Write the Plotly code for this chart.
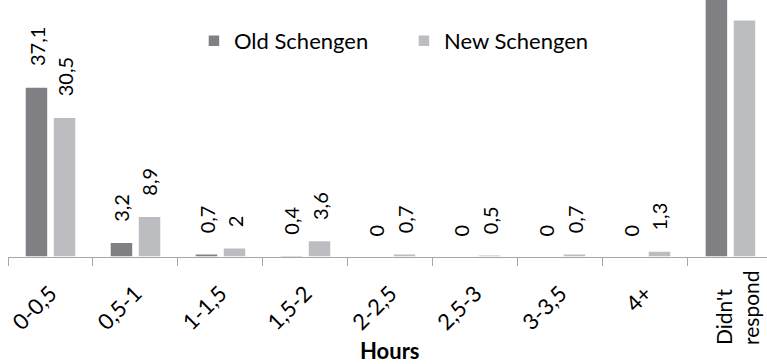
import plotly.graph_objects as go

# Survey answers: hours spent, share of respondents (%)
categories = ["0-0,5", "0,5-1", "1-1,5", "1,5-2", "2-2,5", "2,5-3", "3-3,5", "4+", "Didn't respond"]
old_schengen = [37.1, 3.2, 0.7, 0.4, 0, 0, 0, 0, 58.6]
new_schengen = [30.5, 8.9, 2.0, 3.6, 0.7, 0.5, 0.7, 1.3, 51.8]
tick_labels = ["0-0,5", "0,5-1", "1-1,5", "1,5-2", "2-2,5", "2,5-3", "3-3,5", "4+", ""]
last_label = "Didn't<br>respond"
axis_title = "Hours"

FONT = "Lato, 'Open Sans', sans-serif"
OLD_COLOR = "#7f7f84"
NEW_COLOR = "#bcbdc1"
Y_MAX = 56.1
PLOT_H = 257          # plot area height in px
LABEL_SIZE = 20
LABEL_GAP = 19        # px between bar end and its value label

fig = go.Figure()
fig.add_trace(go.Bar(
    x=categories, y=old_schengen, name="Old Schengen",
    marker=dict(color=OLD_COLOR, line=dict(color="white", width=1.5)),
))
fig.add_trace(go.Bar(
    x=categories, y=new_schengen, name="New Schengen",
    marker=dict(color=NEW_COLOR, line=dict(color="white", width=1.5)),
))


def fmt(v):
    return f"{v:g}".replace(".", ",")


def text_len(s):
    # rough rendered length of a numeric label in px
    return sum(0.25 if c == "," else 0.58 for c in s) * LABEL_SIZE


# Vertical value labels above each bar, starting LABEL_GAP px past the bar end
px_per_unit = PLOT_H / Y_MAX
annotations = []
for values, shift in ((old_schengen, -14), (new_schengen, 14)):
    for cat, v in zip(categories, values):
        txt = fmt(v)
        if v * px_per_unit + LABEL_GAP + text_len(txt) > PLOT_H:
            continue  # label would sit above the visible area
        annotations.append(dict(
            x=cat, y=v, xref="x", yref="y", text=txt, textangle=-90,
            showarrow=False, xanchor="center", yanchor="bottom",
            xshift=shift, yshift=LABEL_GAP,
            font=dict(family=FONT, size=LABEL_SIZE, color="#000000"),
        ))

# Two-line vertical label for the last category
annotations.append(dict(
    x=categories[-1], y=0, xref="x", yref="y", text=last_label, textangle=-90,
    showarrow=False, xanchor="center", yanchor="top", align="left",
    xshift=6, yshift=-11,
    font=dict(family=FONT, size=21, color="#000000"),
))

# Axis title
annotations.append(dict(
    x=4, y=-0.362, xref="x", yref="paper", text=f"<b>{axis_title}</b>",
    showarrow=False, xanchor="center", yanchor="middle",
    font=dict(family=FONT, size=22, color="#000000"),
))

fig.update_layout(
    width=767, height=364,
    margin=dict(l=8, r=0, t=0, b=107),
    paper_bgcolor="white", plot_bgcolor="white",
    barmode="group", bargap=0.34, bargroupgap=0.18,
    font=dict(family=FONT, color="#000000"),
    showlegend=True,
    legend=dict(
        orientation="h", x=0.245, y=0.922, xanchor="left", yanchor="top",
        font=dict(family=FONT, size=22, color="#000000"),
        entrywidth=165, bgcolor="rgba(0,0,0,0)",
    ),
    annotations=annotations,
)
fig.update_xaxes(
    range=[-0.5, 8.43], type="category",
    tickmode="array", tickvals=categories, ticktext=tick_labels,
    tickson="boundaries", ticks="outside", ticklen=8, tickcolor="#a6a6a6",
    showline=True, linecolor="#a6a6a6", linewidth=1,
    tickangle=-45, ticklabelstandoff=14,
    tickfont=dict(family=FONT, size=22, color="#000000"),
    showgrid=False, zeroline=False,
)
fig.update_yaxes(range=[0, Y_MAX], visible=False, showgrid=False, zeroline=False)

fig.write_html("out.html")
